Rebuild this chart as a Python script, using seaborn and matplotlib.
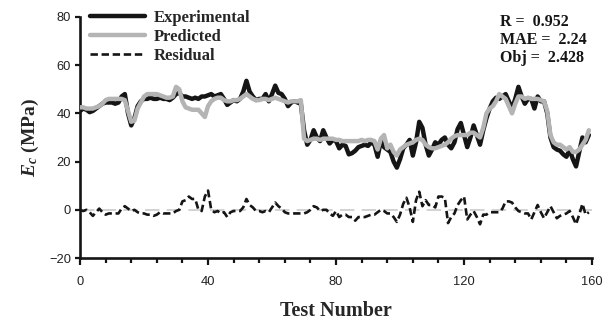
import numpy as np
import pandas as pd
import matplotlib
matplotlib.use("Agg")
import matplotlib.pyplot as plt
import seaborn as sns
from matplotlib.lines import Line2D
from matplotlib.ticker import MultipleLocator

# ---- data ----
test_number = list(range(160))

experimental = [
    41, 42, 41.5, 40.5, 41, 42, 43, 44, 44.5, 44.5,
    44.5, 44, 44.5, 47, 48, 40, 35, 38, 43, 45,
    46, 46, 46.5, 46, 46, 46.5, 46, 46, 45.5, 46.5,
    48, 48.5, 47, 47, 46.5, 46, 46.5, 46, 47, 47,
    47.5, 48, 47, 47.5, 48, 46, 43.5, 44.5, 45.5, 45,
    46, 49, 53.5, 49, 47, 45.5, 46, 46, 48, 45,
    48, 51.5, 48.5, 48, 46, 43, 44.5, 45, 44.5, 44,
    33, 27, 29, 33, 30, 28.5, 33, 30, 27.5, 29,
    28.5, 25.5, 27, 26.5, 23, 23.5, 24.5, 26, 26.5, 27,
    26.5, 28, 27, 22, 28.5, 26, 25, 24, 20, 17.5,
    21, 25.5, 27, 29, 22.5, 28, 36.5, 34, 27, 22.5,
    25, 28, 27, 29, 30, 27, 25.5, 28, 33.5, 36,
    31, 26, 30, 35, 31, 27, 33, 38, 42, 45,
    46.5, 46, 47, 48, 45, 42, 46, 51, 47, 44,
    46, 46, 42, 47, 45, 45, 40, 30, 26, 25,
    24.5, 23, 22, 25, 21, 18, 24, 30, 28, 31,
]

predicted = [
    42.5, 42.5, 42, 42, 42, 42.5, 43, 44, 45.5, 46,
    46, 46, 46, 46, 45.5, 41, 36.5, 37, 42, 44.5,
    47, 48, 48, 48, 48, 47.5, 47, 46.5, 46.5, 47,
    51, 50, 45, 42.5, 42, 41.5, 41.5, 41.5, 40, 38.5,
    43, 45, 46, 46.5, 46.5, 45.5, 45, 45, 45.5, 45.5,
    46, 47, 48, 47, 46, 45.5, 45.5, 46, 46, 45.5,
    46, 46.5, 46, 45.5, 45, 44.5, 45, 45, 45, 45.5,
    29.5, 28.5, 29, 29.5, 29.5, 29, 29.5, 29.5, 29.5, 29.5,
    29, 29, 28.5, 28.5, 28.5, 28.5, 28.5, 28.5, 29, 28.5,
    29, 29, 28.5, 25, 29.5, 31, 25.5, 27, 24, 22.5,
    25, 26, 27, 27.5, 28, 29, 29.5, 29, 27, 26,
    25.5, 25.5, 26, 26.5, 27, 28, 29.5, 30.5, 31, 31,
    31, 31, 32, 32, 31, 30, 34, 40, 42, 43,
    45, 48, 47, 46, 43, 40, 44, 47, 47, 46,
    46.5, 46, 46, 46, 45.5, 45, 41, 31, 28, 27,
    27, 26, 25, 26, 24, 24, 25, 27, 29, 33,
]

residual = [
    0, -0.5, 0, -1, -2.5, -1, 0.5, -1, -2, -1.5,
    -1.5, -1.5, -1.5, 0.5, 1.5, 0.5, -0.5, 0, -1, -1.5,
    -1.5, -2, -2, -2.5, -2, -1, -1.5, -1.5, -1.5, -1.5,
    -0.5, 0, 3.5, 4, 5.5, 4.5, 4.5, 0, -0.5, 5.5,
    8, 0, -1, -0.5, -1.5, -1, -3, -1, -0.5, -0.5,
    -0.5, 1, 4.5, 2, 1, -0.5, -0.5, -1, -0.5, -1,
    1, 3, 1.5, 0.5, -1, -1.5, -1.5, -1.5, -1.5, -1.5,
    -1.5, -1, 0, 1.5, 1, -0.5, 0, 0, -1.5, -2.5,
    -0.5, -3, -2, -2, -3, -3, -4.5, -3, -3, -3,
    -2.5, -2, -2, -1, 0, -0.5, -1.5, -1.5, -3, -5,
    -2, 2.5, 5, 1, -5, 4, 7.5, 1.5, 4, 2,
    2, 1, 5.5, 5.5, 5, -5.5, -3, -1.5, 2, 4,
    5.5, -4, -2, -0.5, -3, -6, -2, -2, -1, -1,
    -1, -1, 0.5, 3.5, 3.5, 3, 1, -0.5, -1, -1.5,
    -1.5, -4, -1, 2, -1, -3.5, -1, 1.5, -1, -3.5,
    -2.5, -2, -1.5, -0.5, -3, -6, -2, 2.5, -2, -1,
]

series_labels = ["Experimental", "Predicted", "Residual"]
x_ticks = [0, 40, 80, 120, 160]
y_ticks = [-20, 0, 20, 40, 60, 80]
stats_text = ["R =  0.952", "MAE =  2.24", "Obj =  2.428"]

df = pd.DataFrame({"test": test_number, "exp": experimental,
                   "pred": predicted, "res": residual})

# ---- style ----
sns.set_style("ticks")
plt.rcParams["font.family"] = ["Liberation Sans", "DejaVu Sans"]
plt.rcParams["mathtext.fontset"] = "custom"
plt.rcParams["mathtext.it"] = "Liberation Serif:italic:bold"
plt.rcParams["mathtext.rm"] = "Liberation Serif:bold"
plt.rcParams["mathtext.bf"] = "Liberation Serif:bold"

fig = plt.figure(figsize=(6.04, 3.25), dpi=100)
ax = fig.add_axes([0.1325, 0.206, 0.8477, 0.742])

ax.axhline(0, color="#cfcfcf", lw=1.3, ls=(0, (8, 4)), zorder=1)

sns.lineplot(data=df, x="test", y="exp", ax=ax, color="#151515", lw=3.2, zorder=3)
sns.lineplot(data=df, x="test", y="pred", ax=ax, color="#b4b4b4", lw=3.2, zorder=4)
sns.lineplot(data=df, x="test", y="res", ax=ax, color="#151515", lw=1.9, zorder=5)
ax.lines[-1].set_dashes((2.8, 1.4))

ax.set_xlim(0, 160)
ax.set_ylim(-20, 80)
ax.set_xticks(x_ticks)
ax.set_yticks(y_ticks)
ax.set_yticklabels([str(v).replace("-", "\u2212") for v in y_ticks])
ax.xaxis.set_minor_locator(MultipleLocator(8))

for s in ["top", "right"]:
    ax.spines[s].set_visible(False)
for s in ["left", "bottom"]:
    ax.spines[s].set_linewidth(1.9)
    ax.spines[s].set_color("#151515")

ax.tick_params(axis="both", which="major", labelsize=9.3, colors="#151515",
               labelcolor="#222222", width=1.6)
ax.tick_params(axis="x", which="major", length=5, direction="out", pad=8)
ax.tick_params(axis="x", which="minor", length=3.5, width=1.6, direction="out",
               color="#151515")
ax.tick_params(axis="y", which="major", length=3.5, direction="out", pad=3)

ax.set_xlabel("Test Number", family="Liberation Serif", fontweight="bold",
              fontsize=14.5, labelpad=9)
ax.set_ylabel(r"$E_c$ (MPa)", family="Liberation Serif", fontweight="bold",
              fontsize=14, labelpad=6)

handles = [
    Line2D([], [], color="#151515", lw=3.2),
    Line2D([], [], color="#b4b4b4", lw=3.2),
    Line2D([], [], color="#151515", lw=1.9, dashes=(2.8, 1.4)),
]
leg = ax.legend(handles, series_labels, loc="upper left",
                bbox_to_anchor=(0.01, 1.05), frameon=False,
                prop={"family": "Liberation Serif", "weight": "bold", "size": 12},
                handlelength=3.3, handletextpad=0.5, labelspacing=0.17,
                borderpad=0.3, borderaxespad=0.0)

for k, t in enumerate(stats_text):
    ax.text(0.82, 0.98 - k * 0.075, t, transform=ax.transAxes, ha="left",
            va="center", family="Liberation Serif", fontweight="bold",
            fontsize=11.5, color="#151515")

fig.savefig("out.png", dpi=100)
